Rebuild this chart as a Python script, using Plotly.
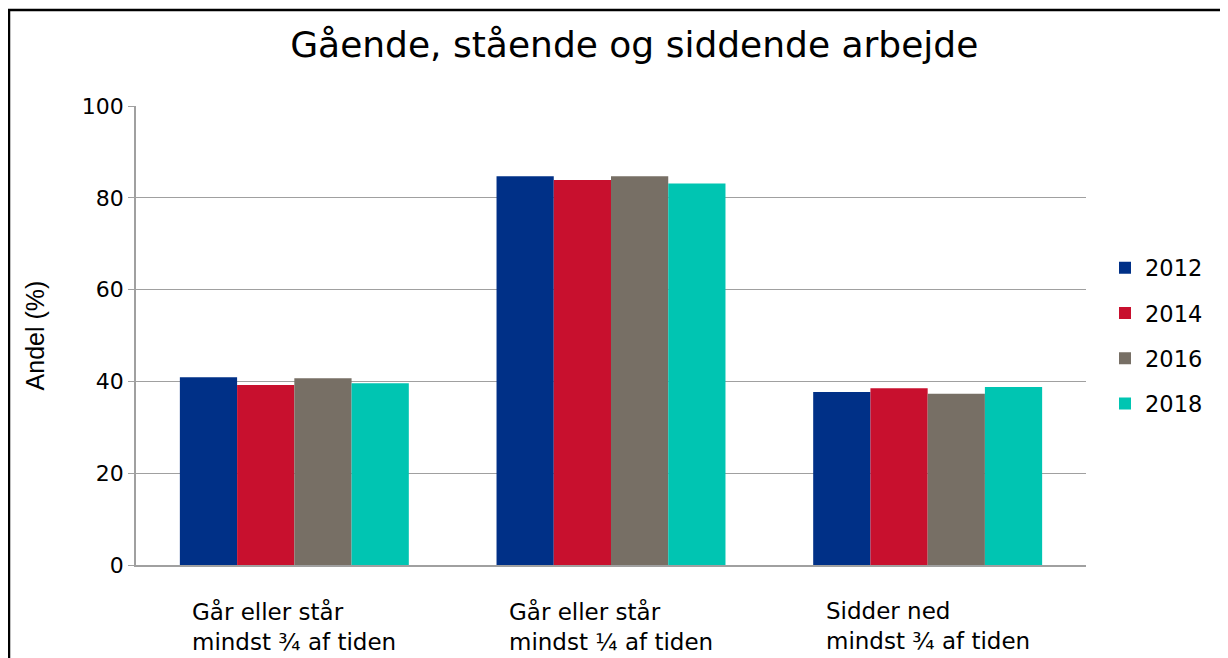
import plotly.graph_objects as go

categories = ["Går eller står<br>mindst ¾ af tiden",
              "Går eller står<br>mindst ¼ af tiden",
              "Sidder ned<br>mindst ¾ af tiden"]
years = ["2012", "2014", "2016", "2018"]
v2012 = [40.9, 84.7, 37.7]
v2014 = [39.2, 83.9, 38.5]
v2016 = [40.7, 84.7, 37.3]
v2018 = [39.6, 83.1, 38.8]
series = [v2012, v2014, v2016, v2018]
colors = ["#003087", "#C8102E", "#776F65", "#00C5B2"]
yticks = [0, 20, 40, 60, 80, 100]

fig = go.Figure()
for i, (yr, vals) in enumerate(zip(years, series)):
    fig.add_trace(go.Bar(x=categories, y=vals, name=yr, marker_color=colors[i],
                         marker_line_width=0, legendgroup=yr))

for c in categories:
    fig.add_annotation(x=c, xref="x", y=-0.068, yref="paper", text=c,
                       showarrow=False, align="left", xanchor="center", yanchor="top",
                       font=dict(family="DejaVu Sans", size=23, color="#000"))

fig.add_shape(type="rect", xref="paper", yref="paper",
              x0=(9 - 136) / 950, x1=(1240 - 136) / 950,
              y0=(565 - 680) / 459, y1=(565 - 10) / 459,
              line=dict(color="#000", width=2.5), fillcolor="rgba(0,0,0,0)", layer="above")

fig.update_layout(
    width=1228, height=658,
    margin=dict(l=128, r=150, t=98, b=101),
    paper_bgcolor="white", plot_bgcolor="white",
    barmode="group", bargap=0.277, bargroupgap=0,
    title=dict(text="Gående, stående og siddende arbejde", x=0.51, xanchor="center",
               y=0.944, yanchor="middle",
               font=dict(family="DejaVu Sans", size=36, color="#000")),
    legend=dict(x=1.02, xanchor="left", y=0.5, yanchor="middle",
                font=dict(family="DejaVu Sans", size=22.5, color="#000"),
                tracegroupgap=13, bgcolor="rgba(0,0,0,0)"),
    showlegend=True,
)
fig.update_xaxes(showticklabels=False, showline=True, linecolor="#a0a0a0", linewidth=1.5,
                 ticks="", showgrid=False)
fig.update_yaxes(range=[0, 100], tickvals=yticks, showline=True, linecolor="#a0a0a0",
                 linewidth=1.5, ticks="outside", ticklen=6, tickcolor="#a0a0a0",
                 showgrid=True, gridcolor="#a0a0a0", gridwidth=1, zeroline=False,
                 tickfont=dict(family="DejaVu Sans", size=22, color="#000"),
                 title=dict(text="Andel (%)", standoff=30,
                            font=dict(family="Liberation Sans", size=25, color="#000")))

fig.write_html("out.html")
